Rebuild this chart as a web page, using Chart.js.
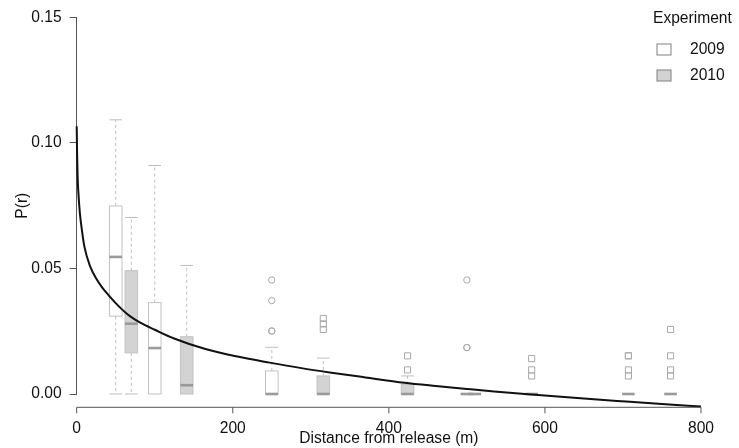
<!DOCTYPE html>
<html>
<head>
<meta charset="utf-8">
<script src="https://cdn.jsdelivr.net/npm/chart.js@4"></script>
<style>
  html, body { margin: 0; padding: 0; background: #fff; }
  #wrap { width: 739px; height: 448px; position: relative; }
</style>
</head>
<body>
<div id="wrap"><canvas id="chart"></canvas></div>
<script>
// fitted dispersal curve
const curveDist = [0, 0.5, 1.2, 2, 4, 7, 10, 17, 25, 33, 41, 50, 57, 62, 70, 82, 100, 124, 165, 206, 247, 288, 324, 370, 420, 460, 500, 535, 600, 650, 704, 750, 800];
const curveP = [0.1066, 0.096, 0.0865, 0.081, 0.0722, 0.0645, 0.0585, 0.051, 0.046, 0.0423, 0.0393, 0.0362, 0.034, 0.0326, 0.0306, 0.0283, 0.0256, 0.0222, 0.0179, 0.0149, 0.0125, 0.0103, 0.0086, 0.0066, 0.0045, 0.0032, 0.002, 0.001, -0.0006, -0.0018, -0.003, -0.004, -0.005];

// 2009 boxes
const dist2009 = [50, 100, 250, 500];
const lower2009 = [0, 0, 0, 0];
const q1_2009 = [0.031, 0, 0, 0];
const median2009 = [0.0546, 0.0183, 0, 0];
const q3_2009 = [0.0749, 0.0364, 0.0092, 0];
const upper2009 = [0.1092, 0.091, 0.0186, 0];
const outDist2009 = [250, 250, 250, 250, 500, 500, 500];
const outVal2009 = [0.0454, 0.0372, 0.0251, 0.0251, 0.0454, 0.0185, 0.0185];

// 2010 boxes
const dist2010 = [70, 141, 316, 424, 510, 583, 707, 761];
const lower2010 = [0, 0, 0, 0, 0, 0, 0, 0];
const q1_2010 = [0.0164, 0, 0, 0, 0, 0, 0, 0];
const median2010 = [0.028, 0.0035, 0, 0, 0, 0, 0, 0];
const q3_2010 = [0.0491, 0.0228, 0.0072, 0.0038, 0, 0, 0, 0];
const upper2010 = [0.0703, 0.0512, 0.0143, 0.0072, 0, 0, 0, 0];
const outDist2010 = [316, 316, 316, 424, 424, 583, 583, 583, 707, 707, 707, 707, 761, 761, 761, 761];
const outVal2010 = [0.0301, 0.0279, 0.0257, 0.0152, 0.0096, 0.0141, 0.0096, 0.0072, 0.0152, 0.0152, 0.0096, 0.0072, 0.0257, 0.0152, 0.0096, 0.0072];

const xTicks = [0, 200, 400, 600, 800];
const yTicks = [0, 0.05, 0.1, 0.15];
const legendTitle = 'Experiment';
const legendLabels = ['2009', '2010'];

const FILL_2009 = '#ffffff';
const FILL_2010 = '#d3d3d3';
const BOX_W = 12.6;
const FONT = "'Liberation Sans', Arial, Helvetica, sans-serif";
const FONT_SIZE = 15.6;

Chart.defaults.font.family = FONT;
Chart.defaults.font.size = FONT_SIZE;
Chart.defaults.color = '#111';

const makeBoxes = (dist, lo, q1, med, q3, hi, fill) =>
  dist.map((d, i) => ({ d, lo: lo[i], q1: q1[i], med: med[i], q3: q3[i], hi: hi[i], fill }));

const boxes = makeBoxes(dist2009, lower2009, q1_2009, median2009, q3_2009, upper2009, FILL_2009)
  .concat(makeBoxes(dist2010, lower2010, q1_2010, median2010, q3_2010, upper2010, FILL_2010))
  .sort((a, b) => a.d - b.d);

const boxPlugin = {
  id: 'boxes',
  beforeDatasetsDraw(chart) {
    const { ctx, scales: { x, y } } = chart;
    ctx.save();
    boxes.forEach(b => {
      const cx = x.getPixelForValue(b.d);
      const l = cx - BOX_W / 2, r = cx + BOX_W / 2;
      const pq1 = y.getPixelForValue(b.q1), pq3 = y.getPixelForValue(b.q3);
      const plo = y.getPixelForValue(b.lo), phi = y.getPixelForValue(b.hi);
      const pmed = y.getPixelForValue(b.med);

      // whiskers
      ctx.strokeStyle = '#bdbdbd';
      ctx.lineWidth = 1;
      if (b.hi > b.q3 || b.lo < b.q1) {
        ctx.setLineDash([3, 3]);
        ctx.beginPath();
        if (b.hi > b.q3) { ctx.moveTo(cx, pq3); ctx.lineTo(cx, phi); }
        if (b.lo < b.q1) { ctx.moveTo(cx, pq1); ctx.lineTo(cx, plo); }
        ctx.stroke();
        ctx.setLineDash([]);
        ctx.beginPath();
        if (b.hi > b.q3) { ctx.moveTo(l, phi); ctx.lineTo(r, phi); }
        if (b.lo < b.q1) { ctx.moveTo(l, plo); ctx.lineTo(r, plo); }
        ctx.stroke();
      }

      // box
      if (b.q3 > b.q1) {
        ctx.fillStyle = b.fill;
        ctx.fillRect(l, pq3, BOX_W, pq1 - pq3);
        ctx.strokeStyle = '#c2c2c2';
        ctx.strokeRect(l, pq3, BOX_W, pq1 - pq3);
      }

      // median
      ctx.strokeStyle = '#9a9a9a';
      ctx.lineWidth = 2.6;
      ctx.beginPath();
      ctx.moveTo(l, pmed);
      ctx.lineTo(r, pmed);
      ctx.stroke();
    });
    ctx.restore();
  }
};

// R-style detached x axis plus legend
const axisLegendPlugin = {
  id: 'axisLegend',
  afterDraw(chart) {
    const { ctx, chartArea, scales: { x } } = chart;
    const ay = chartArea.bottom + 13.3;
    ctx.save();
    ctx.strokeStyle = '#555';
    ctx.lineWidth = 1;
    ctx.beginPath();
    ctx.moveTo(x.getPixelForValue(xTicks[0]), ay);
    ctx.lineTo(x.getPixelForValue(xTicks[xTicks.length - 1]), ay);
    xTicks.forEach(t => {
      const px = x.getPixelForValue(t);
      ctx.moveTo(px, ay);
      ctx.lineTo(px, ay + 6);
    });
    ctx.stroke();

    // legend
    ctx.font = FONT_SIZE + 'px ' + FONT;
    ctx.fillStyle = '#111';
    ctx.textBaseline = 'middle';
    ctx.textAlign = 'left';
    ctx.fillText(legendTitle, 653, 19);
    const fills = [FILL_2009, FILL_2010];
    legendLabels.forEach((lab, i) => {
      const cy = 49.5 + i * 26;
      ctx.fillStyle = fills[i];
      ctx.fillRect(657, cy - 5.5, 14, 11);
      ctx.strokeStyle = '#808080';
      ctx.strokeRect(657, cy - 5.5, 14, 11);
      ctx.fillStyle = '#111';
      ctx.fillText(lab, 690, cy);
    });
    ctx.restore();
  }
};

const toPoints = (xs, ys) => xs.map((v, i) => ({ x: v, y: ys[i] }));

new Chart(document.getElementById('chart'), {
  type: 'scatter',
  data: {
    datasets: [
      {
        label: '2009 outliers',
        data: toPoints(outDist2009, outVal2009),
        pointStyle: 'circle',
        pointRadius: 3.2,
        borderColor: '#a8a8a8',
        backgroundColor: 'rgba(0,0,0,0)',
        borderWidth: 1
      },
      {
        label: '2010 outliers',
        data: toPoints(outDist2010, outVal2010),
        pointStyle: 'rect',
        pointRadius: 4.3,
        borderColor: '#a8a8a8',
        backgroundColor: 'rgba(0,0,0,0)',
        borderWidth: 1
      },
      {
        label: 'P(r)',
        type: 'line',
        data: toPoints(curveDist, curveP),
        borderColor: '#111',
        borderWidth: 2,
        pointRadius: 0,
        cubicInterpolationMode: 'monotone',
        fill: false,
        clip: false
      }
    ]
  },
  options: {
    responsive: true,
    maintainAspectRatio: false,
    animation: false,
    layout: { padding: { top: 12, right: 14.7, left: 0, bottom: 0 } },
    plugins: {
      legend: { display: false },
      tooltip: { enabled: false }
    },
    scales: {
      x: {
        type: 'linear',
        min: 0,
        max: 800,
        afterFit: s => { s.height = 54; },
        afterBuildTicks: s => { s.ticks = xTicks.map(v => ({ value: v })); },
        grid: { display: false, drawTicks: false },
        border: { display: false },
        ticks: { padding: 25, maxRotation: 0, autoSkip: false, color: '#111' },
        title: { display: true, text: 'Distance from release (m)', color: '#111', padding: { top: 0, bottom: 0 } }
      },
      y: {
        type: 'linear',
        min: 0,
        max: 0.15,
        afterFit: s => { s.width = 76.7; },
        afterBuildTicks: s => { s.ticks = yTicks.map(v => ({ value: v })); },
        grid: { display: true, drawOnChartArea: false, drawTicks: true, tickLength: 7, color: '#555' },
        border: { display: true, color: '#555' },
        ticks: { padding: 8, autoSkip: false, color: '#111', callback: v => v.toFixed(2) },
        title: { display: true, text: 'P(r)', color: '#111', padding: { top: 13, bottom: 0 } }
      }
    }
  },
  plugins: [boxPlugin, axisLegendPlugin]
});
</script>
</body>
</html>
